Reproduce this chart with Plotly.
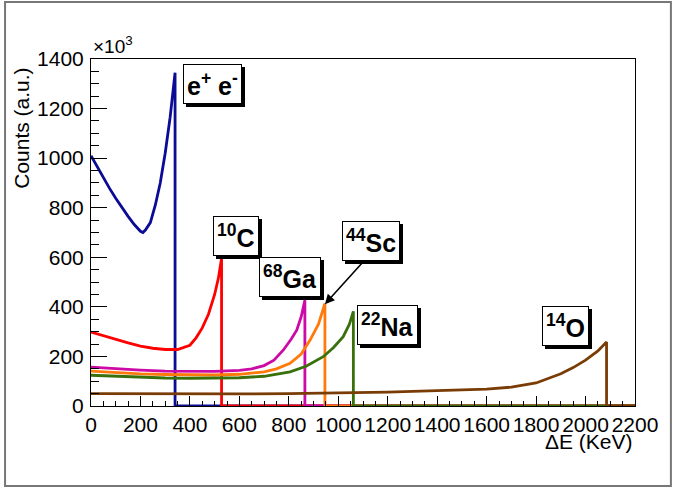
import plotly.graph_objects as go

# ---- data (counts in units of 10^3, energy in keV) ----
ee_x = [0, 25, 50, 75, 100, 125, 150, 175, 200, 210, 220, 240, 260, 280, 300, 320, 340, 340, 2200]
ee_y = [1010, 965, 920, 878, 838, 800, 765, 732, 705, 700, 710, 740, 810, 900, 1020, 1165, 1345, 0, 0]

c10_x = [0, 50, 100, 150, 200, 250, 300, 350, 400, 425, 450, 475, 500, 515, 528, 528, 2200]
c10_y = [298, 283, 268, 255, 242, 233, 228, 228, 245, 275, 315, 370, 450, 515, 595, 0, 0]

ga68_x = [0, 100, 200, 300, 400, 500, 600, 650, 700, 740, 778, 810, 832, 850, 865, 865, 2200]
ga68_y = [157, 150, 145, 141, 139, 140, 144, 150, 163, 185, 226, 270, 306, 360, 427, 0, 0]

sc44_x = [0, 100, 200, 300, 400, 500, 600, 700, 750, 805, 850, 886, 920, 946, 946, 2200]
sc44_y = [141, 135, 130, 127, 125, 125, 128, 138, 150, 172, 210, 266, 330, 414, 0, 0]

na22_x = [0, 100, 200, 300, 400, 500, 600, 700, 805, 870, 939, 980, 1020, 1045, 1061, 1061, 2200]
na22_y = [124, 120, 116, 113, 112, 112, 114, 120, 138, 160, 199, 235, 280, 330, 382, 0, 0]

o14_x = [0, 200, 400, 600, 800, 1000, 1200, 1400, 1600, 1700, 1800, 1900, 1950, 2000, 2050, 2085, 2085, 2200]
o14_y = [50, 49, 49, 49, 50, 52, 56, 62, 68, 76, 93, 130, 155, 185, 222, 258, 0, 0]

series = [
    (ee_x, ee_y, "#0b0b96"),
    (c10_x, c10_y, "#ff0000"),
    (ga68_x, ga68_y, "#cc0aa6"),
    (sc44_x, sc44_y, "#ff7a0a"),
    (na22_x, na22_y, "#38700c"),
    (o14_x, o14_y, "#7a3c05"),
]

# label text and position (data coords)
labels = [
    ("<b>e<sup>+</sup> e<sup>-</sup></b>", 493, 1298),
    ("<b><sup>10</sup>C</b>", 586, 685),
    ("<b><sup>68</sup>Ga</b>", 805, 520),
    ("<b><sup>44</sup>Sc</b>", 1132, 665),
    ("<b><sup>22</sup>Na</b>", 1201, 325),
    ("<b><sup>14</sup>O</b>", 1919, 324),
]

FONT = "Liberation Sans, Arial, Helvetica, sans-serif"

fig = go.Figure()
for x, y, c in series:
    fig.add_trace(go.Scatter(x=x, y=y, mode="lines", line=dict(color=c, width=2.8),
                             showlegend=False, hoverinfo="skip"))

ann = []
for txt, x, y in labels:
    # shadow
    ann.append(dict(x=x, y=y, xref="x", yref="y", text=txt, showarrow=False,
                    font=dict(family=FONT, size=25, color="black"),
                    bgcolor="black", bordercolor="black", borderwidth=1, borderpad=3,
                    xshift=3, yshift=-3))
    ann.append(dict(x=x, y=y, xref="x", yref="y", text=txt, showarrow=False,
                    font=dict(family=FONT, size=25, color="black"),
                    bgcolor="white", bordercolor="black", borderwidth=1, borderpad=3))

# arrow for 44Sc
ann.append(dict(x=946, y=411, xref="x", yref="y", ax=1100, ay=581, axref="x", ayref="y",
                text="", showarrow=True, arrowhead=2, arrowsize=1.2, arrowwidth=1.6,
                arrowcolor="black"))

# axis titles and exponent
ann.append(dict(x=1, y=-0.103, xref="paper", yref="paper", xanchor="right", yanchor="middle",
                text="\u0394E (KeV)", showarrow=False, font=dict(family=FONT, size=21, color="black")))
ann.append(dict(x=-0.128, y=0.80, xref="paper", yref="paper", xanchor="center", yanchor="middle",
                text="Counts (a.u.)", textangle=-90, showarrow=False,
                font=dict(family=FONT, size=21, color="black")))
ann.append(dict(x=0.0, y=1.0, xref="paper", yref="paper", xanchor="left", yanchor="bottom",
                text="\u00d710<sup>3</sup>", showarrow=False,
                font=dict(family=FONT, size=19, color="black")))

shapes = [dict(type="rect", xref="paper", yref="paper", x0=-0.158, x1=1.066, y0=-0.2305, y1=1.164,
               line=dict(color="#777777", width=2), fillcolor="rgba(0,0,0,0)", layer="below")]

fig.update_layout(
    width=675, height=488, autosize=False,
    margin=dict(l=91, r=40, t=59, b=82),
    paper_bgcolor="white", plot_bgcolor="white",
    annotations=ann, shapes=shapes,
    font=dict(family=FONT, size=21, color="black"),
)
fig.update_xaxes(range=[0, 2200], tickmode="array", tickvals=list(range(0, 2201, 200)),
                 ticks="inside", ticklen=10, tickcolor="black", tickwidth=1,
                 minor=dict(ticks="inside", ticklen=5, dtick=50, tickcolor="black"),
                 showline=True, mirror=True, linecolor="black", linewidth=1,
                 showgrid=False, zeroline=False, tickfont=dict(family=FONT, size=21))
fig.update_yaxes(range=[0, 1400], tickmode="array", tickvals=list(range(0, 1401, 200)),
                 ticks="inside", ticklen=16, tickcolor="black", tickwidth=1,
                 minor=dict(ticks="inside", ticklen=8, dtick=50, tickcolor="black"),
                 showline=True, mirror=True, linecolor="black", linewidth=1,
                 showgrid=False, zeroline=False, tickfont=dict(family=FONT, size=21),
                 ticklabelstandoff=2)

fig.write_html("out.html")
